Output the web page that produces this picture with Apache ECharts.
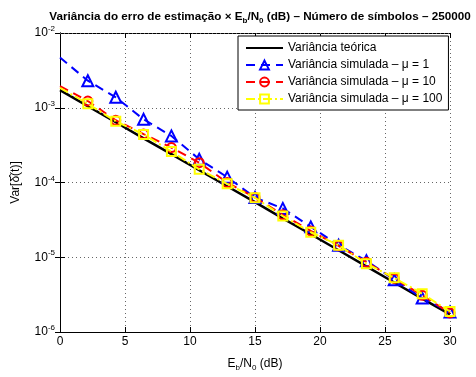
<!DOCTYPE html>
<html>
<head>
<meta charset="utf-8">
<script src="https://cdn.jsdelivr.net/npm/echarts@6/dist/echarts.min.js"></script>
<style>
  html, body { margin: 0; padding: 0; background: #fff; }
  #chart { width: 476px; height: 377px; }
</style>
</head>
<body>
<div id="chart"></div>
<script>
// Eb/N0 (dB)
const ebn0 = [0, 2.14, 4.29, 6.43, 8.57, 10.71, 12.86, 15, 17.14, 19.29, 21.43, 23.57, 25.71, 27.86, 30];

const varTeorica = [1.72e-3, 1.05e-3, 6.4e-4, 3.9e-4, 2.4e-4, 1.46e-4, 8.9e-5, 5.45e-5, 3.32e-5, 2.03e-5, 1.24e-5, 7.55e-6, 4.6e-6, 2.8e-6, 1.72e-6];
const varMu1 = [4.7e-3, 2.3e-3, 1.38e-3, 7.0e-4, 4.2e-4, 2.05e-4, 1.18e-4, 6.3e-5, 4.5e-5, 2.55e-5, 1.45e-5, 9.0e-6, 5.0e-6, 2.85e-6, 1.85e-6];
const varMu10 = [1.95e-3, 1.23e-3, 6.8e-4, 4.45e-4, 2.93e-4, 1.84e-4, 1.0e-4, 6.3e-5, 3.7e-5, 2.25e-5, 1.42e-5, 8.6e-6, 5.2e-6, 3.1e-6, 1.8e-6];
const varMu100 = [1.85e-3, 1.13e-3, 6.6e-4, 4.4e-4, 2.6e-4, 1.5e-4, 9.6e-5, 6.25e-5, 3.55e-5, 2.16e-5, 1.45e-5, 8.2e-6, 5.3e-6, 3.25e-6, 1.88e-6];

const seriesNames = [
  "Variância teórica",
  "Variância simulada – μ = 1",
  "Variância simulada – μ = 10",
  "Variância simulada – μ = 100",
];

// minor grid lines of the log axis (2..9 x 10^d)
const decades = [-6, -5, -4, -3];
const minorGrid = [];
decades.forEach((d) => {
  for (let k = 2; k <= 9; k++) minorGrid.push({ yAxis: k * Math.pow(10, d) });
});

const font = "Liberation Sans, Arial, Helvetica, sans-serif";
const gridLine = { color: "#666", type: [1, 3], width: 1 };

const pts = (ys) =>
  ys.map((y, i) => (i === 0 ? { value: [ebn0[i], y], symbol: "none" } : [ebn0[i], y]));

const chart = echarts.init(document.getElementById("chart"));
chart.setOption({
  animation: false,
  textStyle: { fontFamily: font },
  title: {
    text: "{t|Variância do erro de estimação × E}{sub|b}{t|/N}{sub|0}{t| (dB) – Número de símbolos – 250000}",
    left: 255,
    textAlign: "center",
    top: 4,
    textStyle: {
      rich: {
        t: { fontFamily: font, fontSize: 11.7, fontWeight: "bold", color: "#000" },
        sub: { fontFamily: font, fontSize: 8, fontWeight: "bold", color: "#000", padding: [8, 0, 0, 0] },
      },
    },
  },
  grid: { left: 60, right: 26, top: 33, bottom: 36 },
  legend: {
    orient: "vertical",
    left: 238,
    top: 36,
    width: 209,
    padding: [6, 6, 5, 7],
    itemWidth: 37,
    itemHeight: 11,
    itemGap: 5,
    backgroundColor: "#fff",
    borderColor: "#000",
    borderWidth: 1,
    textStyle: { fontFamily: font, fontSize: 12, color: "#000" },
    data: [
      { name: seriesNames[0], itemStyle: { opacity: 0 } },
      seriesNames[1],
      seriesNames[2],
      seriesNames[3],
    ],
  },
  xAxis: [
    {
      type: "value",
      min: 0,
      max: 30,
      interval: 5,
      name: "{t|E}{sub|b}{t|/N}{sub|0}{t| (dB)}",
      nameLocation: "middle",
      nameGap: 24,
      nameTextStyle: {
        rich: {
          t: { fontFamily: font, fontSize: 12, color: "#000" },
          sub: { fontFamily: font, fontSize: 8, color: "#000", padding: [8, 0, 0, 0] },
        },
      },
      axisLine: { lineStyle: { color: "#000", width: 1 } },
      axisTick: { inside: true, length: 5, lineStyle: { color: "#000" } },
      axisLabel: { color: "#000", fontSize: 12, margin: 4 },
      splitLine: { show: true, lineStyle: gridLine },
    },
    {
      type: "value",
      position: "top",
      min: 0,
      max: 30,
      interval: 5,
      axisLine: { show: true, lineStyle: { color: "#000", width: 1 } },
      axisTick: { inside: true, length: 5, lineStyle: { color: "#000" } },
      axisLabel: { show: false },
      splitLine: { show: false },
    },
  ],
  yAxis: [
    {
      type: "log",
      logBase: 10,
      min: 1e-6,
      max: 1e-2,
      name: "Var[δ̂(t)]",
      nameLocation: "middle",
      nameGap: 38,
      nameRotate: 90,
      nameTextStyle: { fontFamily: font, fontSize: 12, color: "#000" },
      axisLine: { show: true, lineStyle: { color: "#000", width: 1 } },
      axisTick: { inside: true, length: 5, lineStyle: { color: "#000" } },
      axisLabel: {
        margin: 5,
        formatter: (v) => "{b|10}{s|" + Math.round(Math.log10(v)) + "}",
        rich: {
          b: { fontFamily: font, fontSize: 12, color: "#000" },
          s: { fontFamily: font, fontSize: 8, color: "#000", padding: [0, 0, 8, 0] },
        },
      },
      splitLine: { show: true, lineStyle: gridLine },
    },
    {
      type: "log",
      logBase: 10,
      min: 1e-6,
      max: 1e-2,
      position: "right",
      axisLine: { show: true, lineStyle: { color: "#000", width: 1 } },
      axisTick: { inside: true, length: 5, lineStyle: { color: "#000" } },
      axisLabel: { show: false },
      splitLine: { show: false },
    },
  ],
  series: [
    {
      name: seriesNames[0],
      type: "line",
      data: ebn0.map((x, i) => [x, varTeorica[i]]),
      showSymbol: false,
      symbol: "none",
      lineStyle: { color: "#000", width: 2.5 },
      itemStyle: { color: "#000" },
      markLine: {
        silent: true,
        symbol: "none",
        label: { show: false },
        lineStyle: gridLine,
        data: minorGrid,
        z: 1,
      },
      z: 2,
    },
    {
      name: seriesNames[1],
      type: "line",
      data: pts(varMu1),
      symbol: "triangle",
      symbolSize: 11,
      lineStyle: { color: "#0000ff", width: 2, type: [9, 6] },
      itemStyle: { color: "rgba(255,255,255,0)", borderColor: "#0000ff", borderWidth: 2 },
      z: 3,
    },
    {
      name: seriesNames[2],
      type: "line",
      data: pts(varMu10),
      symbol: "circle",
      symbolSize: 9,
      lineStyle: { color: "#ff0000", width: 2, type: [9, 6] },
      itemStyle: { color: "rgba(255,255,255,0)", borderColor: "#ff0000", borderWidth: 2 },
      z: 4,
    },
    {
      name: seriesNames[3],
      type: "line",
      data: pts(varMu100),
      symbol: "rect",
      symbolSize: 9,
      lineStyle: { color: "#ffff00", width: 2, type: [9, 3, 2, 3] },
      itemStyle: { color: "rgba(255,255,255,0)", borderColor: "#ffff00", borderWidth: 2 },
      z: 5,
    },
  ],
});
</script>
</body>
</html>
